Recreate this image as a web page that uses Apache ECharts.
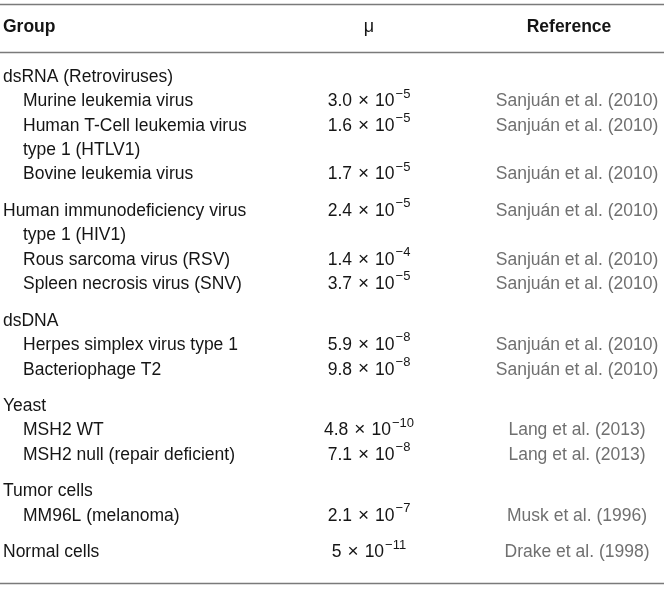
<!DOCTYPE html>
<html>
<head>
<meta charset="utf-8">
<script src="https://cdn.jsdelivr.net/npm/echarts@6/dist/echarts.min.js"></script>
<style>
  html, body { margin: 0; padding: 0; background: #fff; }
  #main { width: 664px; height: 589px; }
</style>
</head>
<body>
<div id="main"></div>
<script>
var headers = ['Group', 'μ', 'Reference'];

var lineText = [
  'dsRNA (Retroviruses)', 'Murine leukemia virus', 'Human T-Cell leukemia virus', 'type 1 (HTLV1)', 'Bovine leukemia virus',
  'Human immunodeficiency virus', 'type 1 (HIV1)', 'Rous sarcoma virus (RSV)', 'Spleen necrosis virus (SNV)',
  'dsDNA', 'Herpes simplex virus type 1', 'Bacteriophage T2',
  'Yeast', 'MSH2 WT', 'MSH2 null (repair deficient)',
  'Tumor cells', 'MM96L (melanoma)',
  'Normal cells'
];
var lineIndent = [0, 1, 1, 1, 1, 0, 1, 1, 1, 0, 1, 1, 0, 1, 1, 0, 1, 0];
var lineGroup = [0, 0, 0, 0, 0, 1, 1, 1, 1, 2, 2, 2, 3, 3, 3, 4, 4, 5];
var muMantissa = [null, '3.0', '1.6', null, '1.7', '2.4', null, '1.4', '3.7', null, '5.9', '9.8', null, '4.8', '7.1', null, '2.1', '5'];
var muExponent = [null, -5, -5, null, -5, -5, null, -4, -5, null, -8, -8, null, -10, -8, null, -7, -11];
var references = [
  null, 'Sanjuán et al. (2010)', 'Sanjuán et al. (2010)', null, 'Sanjuán et al. (2010)',
  'Sanjuán et al. (2010)', null, 'Sanjuán et al. (2010)', 'Sanjuán et al. (2010)',
  null, 'Sanjuán et al. (2010)', 'Sanjuán et al. (2010)',
  null, 'Lang et al. (2013)', 'Lang et al. (2013)',
  null, 'Musk et al. (1996)',
  'Drake et al. (1998)'
];

// layout
var FONT = '"Liberation Sans", Arial, Helvetica, sans-serif';
var FS = 17.5;
var INK = '#151515';
var GROUP_GAP = 0.5;      // extra space between groups, in rows
var HEADER_ROW = -2.05;
var COL_X = [3, 369, 577];
var INDENT = 20;

var rows = lineText.map(function (t, i) {
  return [i, i + lineGroup[i] * GROUP_GAP];
});

function cell(x, y, text, extra) {
  var style = {
    text: text, fill: INK, fontSize: FS, fontFamily: FONT,
    align: 'left', verticalAlign: 'middle'
  };
  for (var k in extra) style[k] = extra[k];
  return { type: 'text', x: x, y: y, style: style };
}

function muText(m, e) {
  return '{m|' + m + '}{x|×}{m|10}{e|' + String(e).replace('-', '−') + '}';
}

var muRich = {
  m: { fontSize: FS, fontFamily: FONT, fill: INK, lineHeight: 22, verticalAlign: 'bottom' },
  x: { fontSize: 19, fontFamily: FONT, fill: INK, lineHeight: 22, verticalAlign: 'bottom', padding: [0, 6, 0, 6] },
  e: { fontSize: 13, fontFamily: FONT, fill: INK, lineHeight: 12, padding: [0, 0, 10, 1], verticalAlign: 'bottom' }
};

var myChart = echarts.init(document.getElementById('main'));

var option = {
  animation: false,
  grid: { left: 0, right: 0, top: 4, bottom: 6 },
  xAxis: { type: 'value', min: 0, max: 664, show: false },
  yAxis: { type: 'value', min: -3, max: 20.75, inverse: true, show: false },
  series: [
    {
      type: 'custom',
      data: rows,
      renderItem: function (params, api) {
        var i = api.value(0);
        var y = api.coord([0, api.value(1)])[1];
        var kids = [cell(COL_X[0] + lineIndent[i] * INDENT, y, lineText[i])];
        if (muMantissa[i] != null) {
          kids.push(cell(COL_X[1], y - 2, muText(muMantissa[i], muExponent[i]), {
            align: 'center', rich: muRich
          }));
        }
        if (references[i] != null) {
          kids.push(cell(COL_X[2], y, references[i], { align: 'center', fill: '#707070' }));
        }
        return { type: 'group', children: kids };
      },
      markLine: {
        silent: true,
        symbol: 'none',
        label: { show: false },
        lineStyle: { color: '#7a7a7a', width: 1.4, type: 'solid' },
        data: [{ yAxis: -3 }, { yAxis: -1.03 }, { yAxis: 20.75 }]
      }
    },
    {
      type: 'custom',
      data: [[HEADER_ROW]],
      renderItem: function (params, api) {
        var y = api.coord([0, api.value(0)])[1];
        return {
          type: 'group',
          children: [
            cell(COL_X[0], y, headers[0], { fontWeight: 'bold' }),
            cell(COL_X[1], y, headers[1], { align: 'center', fontSize: 18 }),
            cell(569, y, headers[2], { align: 'center', fontWeight: 'bold' })
          ]
        };
      }
    }
  ]
};
myChart.setOption(option);
</script>
</body>
</html>
